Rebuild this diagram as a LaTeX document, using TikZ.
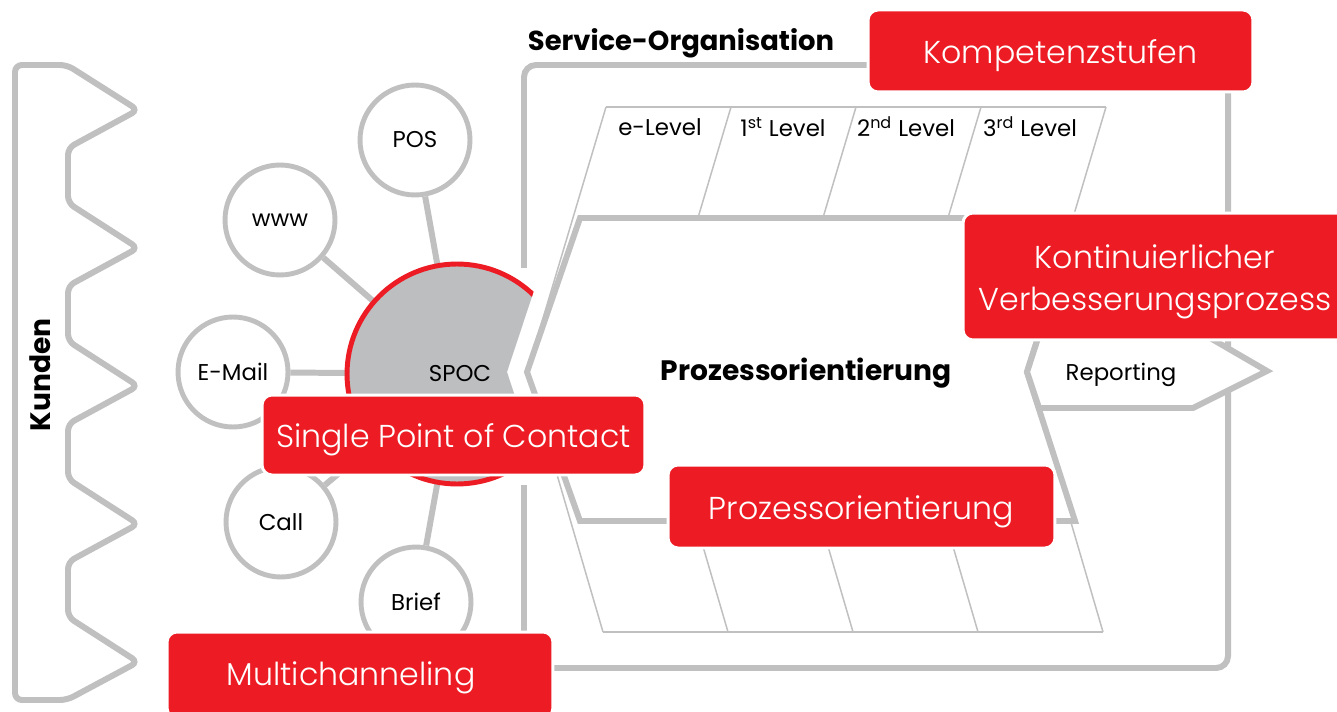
\documentclass[tikz,border=0pt]{standalone}
\usepackage{fontspec}
\setmainfont{Poppins}
\newfontfamily\lightfont{Poppins}[UprightFont=* Light]
\definecolor{lgray}{RGB}{192,192,192}
\definecolor{spocgray}{RGB}{188,190,192}
\definecolor{myred}{RGB}{237,28,36}
\tikzset{
  gline/.style={draw=lgray, line width=3.4pt},
  thinline/.style={draw=lgray, line width=0.85pt},
  sat/.style={circle, draw=lgray, line width=2.8pt, fill=white, minimum size=2.2cm, inner sep=0pt, font=\fontsize{13}{15}\selectfont},
  redbox/.style={rectangle, rounded corners=0.2cm, fill=myred, draw=white, line width=1.7pt, inner sep=0pt},
  boxtext/.style={text=white, font=\lightfont\fontsize{18}{24}\selectfont, inner sep=0pt, align=center},
  lbl/.style={font=\fontsize{13}{15}\selectfont, inner sep=0pt},
  boldlbl/.style={font=\bfseries\fontsize{16}{18}\selectfont, inner sep=0pt},
}
\begin{document}
\begin{tikzpicture}[x=0.02cm, y=-0.02cm]
\useasboundingbox (0,0) rectangle (1337,712);
\fill[white] (0,0) rectangle (1337,712);

% Kunden shape
\draw[gline, rounded corners=0.14cm] (67,65) -- (15,65) -- (15,700) -- (67,700)
  -- (138,662) -- (68,617) -- (68,562) -- (138,524) -- (68,479) -- (68,424)
  -- (138,386) -- (68,341) -- (68,286) -- (138,248) -- (68,203) -- (68,148)
  -- (138,110) -- cycle;
\node[boldlbl, rotate=90] (kunden) at (40,375) {Kunden};

% Service-Organisation frame
\draw[gline, rounded corners=0.24cm] (524,268) -- (524,65) -- (1228,65) -- (1228,668) -- (524,668) -- (524,485);
\node[boldlbl, font=\bfseries\fontsize{15.6}{18}\selectfont] (sorg) at (681,43) {Service-Organisation};

% thin level chevrons
\draw[thinline] (606,107) -- (1106,107);
\draw[thinline] (603,632) -- (1103,632);
\foreach \k in {0,...,4}
  \draw[thinline] ({606+125*\k},107) -- ({527+125*\k},372) -- ({603+125*\k},632);

\node[lbl] (elev) at (660,127) {e-Level};
\node[lbl] (lev1) at (783,127) {1\textsuperscript{st} Level};
\node[lbl] (lev2) at (906,127) {2\textsuperscript{nd} Level};
\node[lbl] (lev3) at (1030,127) {3\textsuperscript{rd} Level};

% thick process chevron
\draw[gline, fill=white] (580,218) -- (1076,218) -- (1027,372) -- (1075,521) -- (580,521) -- (527,372) -- cycle;
\node[boldlbl] (proz) at (806,373) {Prozessorientierung};

% Reporting pentagon
\draw[gline, fill=white] (1039,335) -- (1027,372) -- (1039,408) -- (1193,408) -- (1267,371) -- (1205,335) -- cycle;
\node[lbl] (rep) at (1121,375) {Reporting};

% SPOC and satellites
\node[circle, minimum size=4.48cm, inner sep=0pt, outer sep=0pt] (spoc) at (457,374) {};
\node[sat] (pos) at (415,140) {POS};
\node[sat] (www) at (280,220) {www};
\node[sat] (mail) at (233,372) {E-Mail};
\node[sat] (call) at (281,522) {Call};
\node[sat] (brief) at (416,602) {Brief};
\foreach \s in {pos,www,mail,call,brief}
  \draw[gline] (\s) -- (spoc);
\begin{scope}
  \clip (300,200) -- (564,200) -- (507,372) -- (566,550) -- (300,550) -- cycle;
  \fill[spocgray] (spoc.center) circle[radius=2.2cm];
  \draw[myred, line width=2.8pt] (spoc.center) circle[radius=2.2cm];
\end{scope}
\node[lbl] (spoclbl) at (460,374) {SPOC};

% red boxes
\node[redbox, minimum width=7.7cm, minimum height=1.64cm] (komp) at (1060.5,51) {};
\node[boxtext] (kompt) at ([yshift=-0.1cm]komp.center) {Kompetenzstufen};
\node[redbox, minimum width=7.68cm, minimum height=2.54cm] (kvp) at (1155,276.5) {};
\node[boxtext] (kvpt) at ([yshift=-0.1cm]kvp.center) {Kontinuierlicher\\Verbesserungsprozess};
\node[redbox, minimum width=7.66cm, minimum height=1.6cm] (spocbox) at (453.5,435) {};
\node[boxtext] (spocboxt) at ([yshift=-0.1cm]spocbox.center) {Single Point of Contact};
\node[redbox, minimum width=7.74cm, minimum height=1.66cm] (prozbox) at (861.5,506.5) {};
\node[boxtext] (prozboxt) at ([yshift=-0.1cm]prozbox.center) {Prozessorientierung};
\node[redbox, minimum width=7.72cm, minimum height=1.72cm] (multi) at (360,675) {};
\node[boxtext] (multit) at ([xshift=-0.18cm, yshift=-0.06cm]multi.center) {Multichanneling};
\end{tikzpicture}
\end{document}
